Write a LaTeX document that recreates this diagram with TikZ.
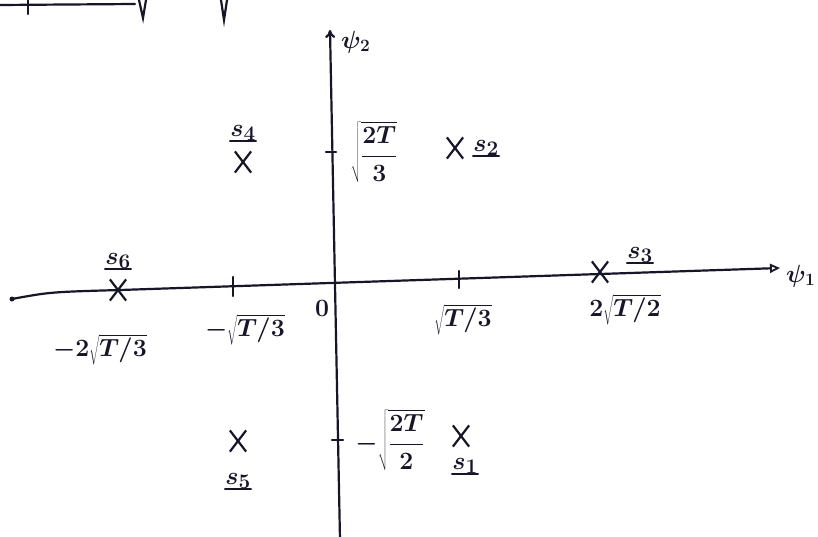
\documentclass[tikz,border=0pt]{standalone}
\usetikzlibrary{shapes.misc,arrows.meta}
\definecolor{inkc}{RGB}{22,22,40}
\begin{document}
\begin{tikzpicture}[x=1pt,y=-1pt,
  ink/.style={draw=inkc, line width=2.2pt, line cap=round},
  lab/.style={text=inkc, font=\fontsize{25}{28}\selectfont\boldmath, inner sep=1pt},
  slab/.style={lab, font=\fontsize{30}{32}\selectfont\boldmath},
  uline/.style={path picture={\draw[inkc,line width=1.8pt] ([xshift=-1pt,yshift=1pt]path picture bounding box.south west) -- ([xshift=1pt,yshift=1pt]path picture bounding box.south east);}},
  xmark/.style={cross out, draw=inkc, line width=2.2pt, minimum width=14pt, minimum height=19pt, inner sep=0pt},
  ticky/.style={ink}]
\useasboundingbox (0,0) rectangle (818,537);
\fill[white] (0,0) rectangle (818,537);
% fragments of previous line at top-left
\draw[ink] (0,5) -- (135,4);
\draw[ink] (28,0) -- (28,14);
\draw[ink] (139,0) -- (143,18) -- (146,0);
\draw[ink] (221,0) -- (224,20) -- (227,0);
% axes
\coordinate (xl) at (12,299);
\coordinate (xm) at (120,290);
\coordinate (xr) at (780,268);
\coordinate (yt) at (330,30);
\coordinate (yb) at (340,540);
\draw[ink, -{Triangle[open,length=10pt,width=9pt,line width=1.8pt]}] (xl) .. controls (50,292) .. (xm) -- (xr);
\fill[inkc] (xl) circle (2.5pt);
\draw[ink, -{To[length=8pt,width=10pt]}] (yb) -- (yt);
\node[lab, anchor=west] (psi2) at (340,42) {$\psi_{2}$};
\node[lab, anchor=west] (psi1) at (785,276) {$\psi_{1}$};
% ticks
\coordinate (t1a) at (326,152); \coordinate (t1b) at (336,152);
\draw[ticky] (t1a) -- (t1b);
\coordinate (t2a) at (332,440); \coordinate (t2b) at (343,440);
\draw[ticky] (t2a) -- (t2b);
\coordinate (t3a) at (233,277); \coordinate (t3b) at (233,296);
\draw[ticky] (t3a) -- (t3b);
\coordinate (t4a) at (459,271); \coordinate (t4b) at (459,288);
\draw[ticky] (t4a) -- (t4b);
% axis labels
\node[lab] (o) at (322,308) {$0$};
\node[lab] (vt) at (374,152) {$\displaystyle\sqrt{\frac{2T}{3}}$};
\node[lab] (vb) at (390,440) {$\displaystyle-\sqrt{\frac{2T}{2}}$};
\node[lab] (hm2) at (100,350) {$-2\sqrt{T/3}$};
\node[lab] (hm1) at (245,330) {$-\sqrt{T/3}$};
\node[lab] (hp1) at (463,320) {$\sqrt{T/3}$};
\node[lab] (hp2) at (625,310) {$2\sqrt{T/2}$};
% symbols
\node[xmark] (x6) at (118,290) {};
\node[slab, uline] (s6) at (118,261) {$s_6$};
\node[xmark] (x4) at (243,162) {};
\node[slab, uline] (s4) at (243,133) {$s_4$};
\node[xmark] (x2) at (455,148) {};
\node[slab, uline] (s2) at (486,148) {$s_2$};
\node[xmark] (x3) at (600,272) {};
\node[slab, uline] (s3) at (640,255) {$s_3$};
\node[xmark] (x5) at (238,441) {};
\node[slab, uline] (s5) at (238,481) {$s_5$};
\node[xmark] (x1) at (461,436) {};
\node[slab, uline] (s1) at (465,466) {$s_1$};
\end{tikzpicture}
\end{document}
